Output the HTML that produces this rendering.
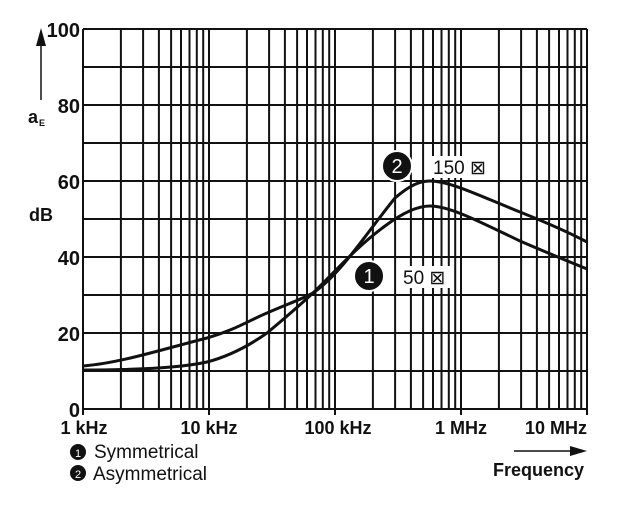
<!DOCTYPE html>
<html><head><style>
body{margin:0;background:#fff;}
svg text{font-family:"Liberation Sans",Arial,sans-serif;fill:#111;}
</style></head><body>
<svg width="640" height="509" viewBox="0 0 640 509" xmlns="http://www.w3.org/2000/svg">
<rect width="640" height="509" fill="#fff"/>
<path stroke="#111" stroke-width="2" fill="none" d="
M83,29V415 M120.9,29V409 M143.1,29V409 M158.9,29V409 M171.1,29V409 M181,29V409 M189.5,29V409 M196.8,29V409 M203.2,29V409 M209,29V415
M246.9,29V409 M269.1,29V409 M284.9,29V409 M297.1,29V409 M307,29V409 M315.5,29V409 M322.8,29V409 M329.2,29V409 M335,29V415
M372.9,29V409 M395.1,29V409 M410.9,29V409 M423.1,29V409 M433,29V409 M441.5,29V409 M448.8,29V409 M455.2,29V409 M461,29V415
M498.9,29V409 M521.1,29V409 M536.9,29V409 M549.1,29V409 M559,29V409 M567.5,29V409 M574.8,29V409 M581.2,29V409 M587,29V415
M83,29H587 M83,67H587 M83,105H587 M83,143H587 M83,181H587 M83,219H587 M83,257H587 M83,295H587 M83,333H587 M83,371H587 M83,409H587"/>
<g stroke="#111" stroke-width="3" fill="none" stroke-linejoin="round">
<path d="M83,366 C120,363 160,350 207,338 C235,330 250,320 267,313 C285,305 300,300 313,293 C340,275 365,235 395,198 C410,185 420,181 430,181 C450,181 480,196 520,212 C550,224 570,233 587,242"/>
<path d="M83,370 C130,370 180,368 207,362 C230,356 250,345 267,333 C285,318 300,305 313,293 C335,272 355,248 385,226 C405,211 420,206 430,206 C450,206 480,222 520,241 C550,254 570,262 587,269"/>
</g>
<rect x="430" y="156" width="58" height="22" fill="#fff"/>
<text x="433" y="174" font-size="19">150 ⊠</text>
<rect x="401" y="266" width="50" height="22" fill="#fff"/>
<text x="403" y="284" font-size="19">50 ⊠</text>
<circle cx="397" cy="166" r="15" fill="#111" stroke="#fff" stroke-width="2"/>
<text x="397" y="173" font-size="20" text-anchor="middle" style="fill:#fff">2</text>
<circle cx="369" cy="276" r="15" fill="#111" stroke="#fff" stroke-width="2"/>
<text x="369" y="283" font-size="20" text-anchor="middle" style="fill:#fff">1</text>
<g font-size="20" font-weight="bold" text-anchor="end">
<text x="80" y="37">100</text><text x="80" y="113">80</text><text x="80" y="189">60</text>
<text x="80" y="265">40</text><text x="80" y="341">20</text><text x="80" y="417">0</text>
</g>
<text x="29" y="221" font-size="18" font-weight="bold">dB</text>
<text x="28" y="123" font-size="18" font-weight="bold">a</text><text x="39" y="126" font-size="9" font-weight="bold">E</text>
<line x1="41" y1="100" x2="41" y2="40" stroke="#111" stroke-width="1.5"/>
<polygon points="36,46 46,46 41,28" fill="#111"/>
<g font-size="18" font-weight="bold" text-anchor="middle">
<text x="84" y="434">1 kHz</text><text x="209" y="434">10 kHz</text><text x="338" y="434">100 kHz</text>
<text x="461" y="434">1 MHz</text><text x="587" y="434" text-anchor="end">10 MHz</text>
</g>
<circle cx="78" cy="452" r="8" fill="#111"/><text x="78" y="457" font-size="11" text-anchor="middle" style="fill:#fff">1</text>
<text x="94" y="458" font-size="19">Symmetrical</text>
<circle cx="78" cy="473" r="8" fill="#111"/><text x="78" y="478" font-size="11" text-anchor="middle" style="fill:#fff">2</text>
<text x="93" y="480" font-size="19">Asymmetrical</text>
<line x1="514" y1="451" x2="575" y2="451" stroke="#111" stroke-width="1.5"/>
<polygon points="570,446 587,451 570,456" fill="#111"/>
<text x="584" y="476" font-size="18" font-weight="bold" text-anchor="end">Frequency</text>
</svg>
</body></html>
